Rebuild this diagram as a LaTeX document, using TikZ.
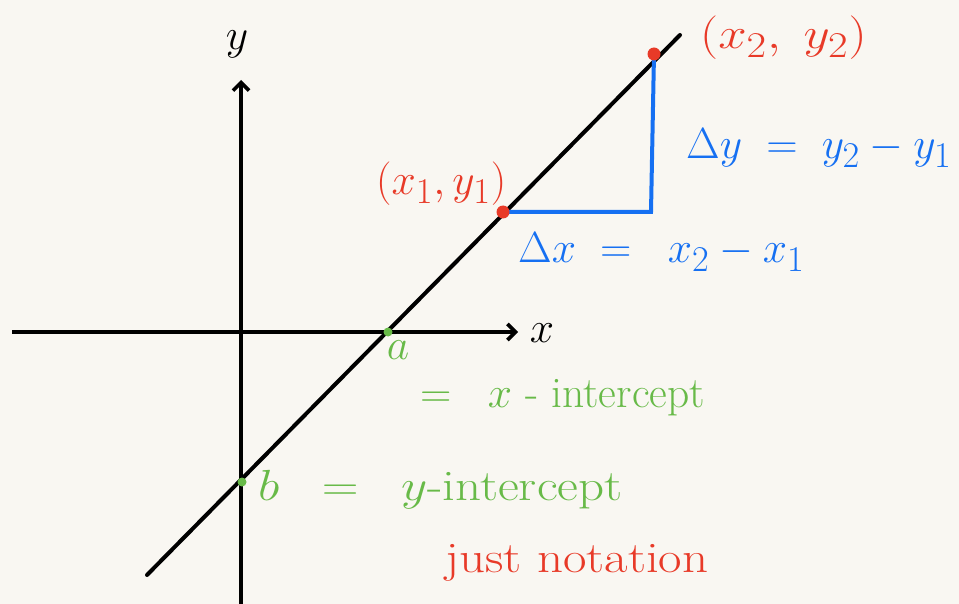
\documentclass[tikz,border=0pt]{standalone}
\usetikzlibrary{arrows.meta}
\definecolor{paper}{RGB}{249,247,242}
\definecolor{hred}{RGB}{232,58,40}
\definecolor{hblue}{RGB}{22,112,242}
\definecolor{hgreen}{RGB}{104,186,72}
\newcommand\hw[1]{\scalebox{1.75}{#1}}
\newcommand\hwx[1]{\scalebox{2.05}[1.75]{#1}}
\tikzset{
  axis/.style={line width=4pt, black, -{Straight Barb[length=8pt,width=16pt,line width=3.6pt]}},
  curve/.style={line width=4pt, black, line cap=round},
  tri/.style={line width=4pt, hblue},
  rdot/.style={circle, fill=hred, inner sep=0pt, minimum size=13pt},
  gdot/.style={circle, fill=hgreen, inner sep=0pt, minimum size=9pt},
  lab/.style={inner sep=0pt, font=\Huge},
}
\begin{document}
\begin{tikzpicture}[x=1pt,y=-1pt]
\fill[paper] (0,0) rectangle (959,604);
\useasboundingbox (0,0) rectangle (959,604);
% axes
\coordinate (xs) at (12,332);
\coordinate (xe) at (518,332);
\coordinate (ys) at (241,604);
\coordinate (ye) at (241,80);
\draw[axis] (xs) -- (xe);
\draw[axis] (ys) -- (ye);
\node[lab] (xl) at (542,333) {\hw{$x$}};
\node[lab] (yl) at (237,44) {\hw{$y$}};
% line
\coordinate (l0) at (147,575);
\coordinate (l1) at (680,35);
\draw[curve] (l0) -- (l1);
% triangle
\coordinate (p1) at (503,212);
\coordinate (p2) at (654,54);
\coordinate (c) at (651,212);
\draw[tri] (p1) -- (c) -- (p2);
\node[rdot] (d1) at (p1) {};
\node[rdot] (d2) at (p2) {};
\node[gdot] (ga) at (388,332) {};
\node[gdot] (gb) at (242,482) {};
% labels
\node[lab, text=hred, anchor=west] (t2) at (700,38) {\hwx{$(x_2,\;y_2)$}};
\node[lab, text=hred, anchor=west] (t1) at (376,184) {\hw{$(x_1,y_1)$}};
\node[lab, text=hblue, anchor=west] (dy) at (686,148) {\hw{$\Delta y\;=\;y_2 - y_1$}};
\node[lab, text=hblue, anchor=west] (dx) at (518,252) {\hw{$\Delta x\;=\;\;x_2 - x_1$}};
\node[lab, text=hgreen] (a) at (398,350) {\hw{$a$}};
\node[lab, text=hgreen, anchor=west] (xi) at (420,398) {\hw{$=\;\;x$ - intercept}};
\node[lab, text=hgreen, anchor=west] (yi) at (258,490) {\hwx{$b\;\;=\;\;y$-intercept}};
\node[lab, text=hred, anchor=west] (jn) at (445,563) {\hwx{just notation}};
\end{tikzpicture}
\end{document}
